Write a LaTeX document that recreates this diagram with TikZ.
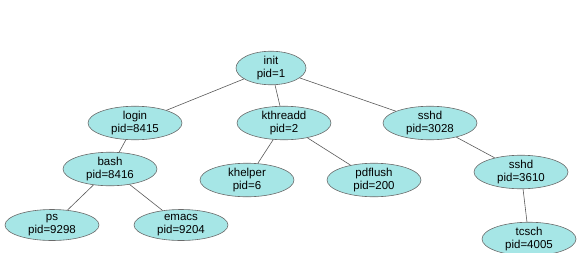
\documentclass[tikz,border=0pt]{standalone}
\usepackage{fontspec}
\setsansfont{Liberation Sans}
\usetikzlibrary{shapes.geometric}
\definecolor{procfill}{HTML}{A6E6E6}
\definecolor{procline}{HTML}{6A6A6A}
\begin{document}
\begin{tikzpicture}[x=1pt, y=-1pt,
  proc/.style={ellipse, draw=procline, fill=procfill, line width=0.6pt,
    minimum width=94pt, minimum height=31pt, inner sep=0pt, align=center,
    font=\sffamily\fontsize{11.5}{13}\selectfont},
  link/.style={draw=black!65, line width=0.6pt}]
  \useasboundingbox (0,0) rectangle (580,252);
  % root
  \node[proc, minimum width=70pt, minimum height=29pt] (init) at (271,68) {init\\pid=1};
  % children of init
  \node[proc] (login) at (135,123) {login\\pid=8415};
  \node[proc] (kthreadd) at (284,123) {kthreadd\\pid=2};
  \node[proc] (sshdA) at (430,123) {sshd\\pid=3028};
  % next level
  \node[proc] (bash) at (110,169) {bash\\pid=8416};
  \node[proc] (khelper) at (247,180) {khelper\\pid=6};
  \node[proc] (pdflush) at (374,180) {pdflush\\pid=200};
  \node[proc] (sshdB) at (521,172) {sshd\\pid=3610};
  % leaves
  \node[proc] (ps) at (52,225) {ps\\pid=9298};
  \node[proc] (emacs) at (181,225) {emacs\\pid=9204};
  \node[proc] (tcsch) at (529,239) {tcsch\\pid=4005};
  % edges
  \draw[link] (init) -- (login);
  \draw[link] (init) -- (kthreadd);
  \draw[link] (init) -- (sshdA);
  \draw[link] (login) -- (bash);
  \draw[link] (kthreadd) -- (khelper);
  \draw[link] (kthreadd) -- (pdflush);
  \draw[link] (sshdA) -- (sshdB);
  \draw[link] (bash) -- (ps);
  \draw[link] (bash) -- (emacs);
  \draw[link] (sshdB) -- (tcsch);
\end{tikzpicture}
\end{document}
